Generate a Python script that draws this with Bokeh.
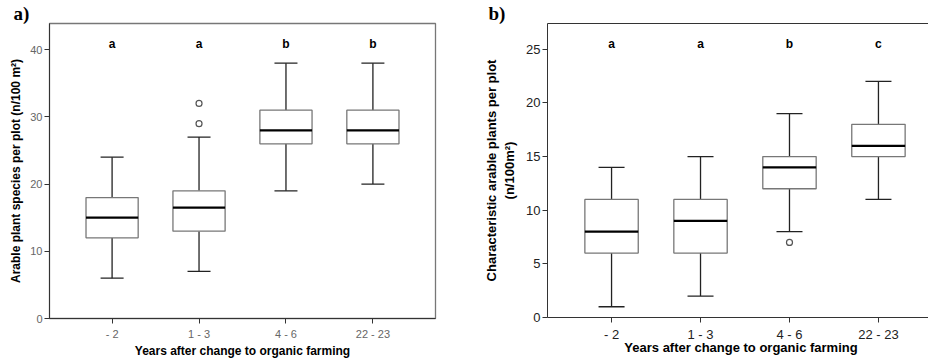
from bokeh.plotting import figure
from bokeh.models import (ColumnDataSource, LinearAxis, Title, FixedTicker, Range1d,
                          Whisker, TeeHead)
from bokeh.layouts import row
from bokeh.core.properties import value
from bokeh.embed import file_html
from bokeh.resources import INLINE

# ---------------- data ----------------
categories = ["- 2", "1 - 3", "4 - 6", "22 - 23"]

a_low = [6, 7, 19, 20]
a_q1 = [12, 13, 26, 26]
a_med = [15, 16.5, 28, 28]
a_q3 = [18, 19, 31, 31]
a_high = [24, 27, 38, 38]
a_out_cat = [1, 1]
a_out_val = [29, 32]
a_letters = ["a", "a", "b", "b"]

b_low = [1, 2, 8, 11]
b_q1 = [6, 6, 12, 15]
b_med = [8, 9, 14, 16]
b_q3 = [11, 11, 15, 18]
b_high = [14, 15, 19, 22]
b_out_cat = [2]
b_out_val = [7]
b_letters = ["a", "a", "b", "c"]

a_ticks = [0, 10, 20, 30, 40]
b_ticks = [0, 5, 10, 15, 20, 25]

FONT = "Liberation Sans"
SERIF = "Liberation Serif"
BOX_W = 0.6


def boxplot(p, low, q1, med, q3, high, out_cat, out_val, letters, letter_y,
            box_color, whisk_color, cap, letter_size):
    xs = [i + 1 for i in range(len(categories))]
    src = ColumnDataSource(dict(x=xs, low=low, q1=q1, med=med, q3=q3, high=high,
                                x0=[x - BOX_W / 2 for x in xs],
                                x1=[x + BOX_W / 2 for x in xs],
                                letters=letters, ly=[letter_y] * len(xs)))
    p.add_layout(Whisker(source=src, base="x", lower="q3", upper="high",
                         line_color=whisk_color, line_width=1.3,
                         lower_head=None,
                         upper_head=TeeHead(size=cap, line_color=whisk_color, line_width=1.3)))
    p.add_layout(Whisker(source=src, base="x", lower="low", upper="q1",
                         line_color=whisk_color, line_width=1.3,
                         upper_head=None,
                         lower_head=TeeHead(size=cap, line_color=whisk_color, line_width=1.3)))
    p.vbar(x="x", width=BOX_W, bottom="q1", top="q3", source=src,
           fill_color="white", line_color=box_color, line_width=1.3)
    p.segment(x0="x0", x1="x1", y0="med", y1="med", source=src,
              line_color="black", line_width=2.2)
    p.scatter([xs[c] for c in out_cat], out_val, marker="circle", size=6,
              fill_color="white", line_color="#555555", line_width=1.2)
    p.text(x="x", y="ly", text="letters", source=src, text_align="center",
           text_baseline="middle", text_font=value(FONT), text_font_style="bold",
           text_font_size=letter_size, text_color="black")


def style_axes(p, label_color, tick_size, title_size):
    for ax in (p.xaxis[0], p.yaxis[0]):
        ax.axis_line_color = "#333333"
        ax.major_tick_line_color = "#333333"
        ax.major_tick_out = 5
        ax.major_tick_in = 0
        ax.minor_tick_line_color = None
        ax.major_label_text_font = FONT
        ax.major_label_text_font_size = tick_size
        ax.major_label_text_color = label_color
        ax.axis_label_text_font = FONT
        ax.axis_label_text_font_style = "bold"
        ax.axis_label_text_font_size = title_size
        ax.axis_label_text_color = "black"
    p.xaxis.ticker = FixedTicker(ticks=[i + 1 for i in range(len(categories))])
    p.xaxis.major_label_overrides = {i + 1: c for i, c in enumerate(categories)}
    p.xgrid.visible = False
    p.ygrid.visible = False


def panel_title(p, text, offset):
    p.add_layout(Title(text=text, text_font=SERIF, text_font_style="bold",
                       text_font_size="19px", text_color="black", align="left",
                       offset=offset, standoff=0, vertical_align="bottom"), "above")


# ---------------- panel a ----------------
pa = figure(frame_width=386, frame_height=295, min_border_left=49, min_border_right=46,
            min_border_top=19, min_border_bottom=45,
            x_range=Range1d(0.28, 4.72), y_range=Range1d(0, 43.9),
            output_backend="svg", toolbar_location=None)
pa.outline_line_color = "#777777"
pa.outline_line_width = 1.3
style_axes(pa, "#666666", "11px", "12px")
pa.yaxis.ticker = FixedTicker(ticks=a_ticks)
pa.yaxis.axis_label = "Arable plant species per plot (n/100 m²)"
pa.xaxis.axis_label = "Years after change to organic farming"
pa.yaxis.axis_label_standoff = 4
pa.xaxis.axis_label_standoff = 1
pa.xaxis.major_label_standoff = 4
pa.yaxis.major_label_standoff = 2
boxplot(pa, a_low, a_q1, a_med, a_q3, a_high, a_out_cat, a_out_val, a_letters, 40.9,
        "#777777", "#222222", 23, "12px")
panel_title(pa, "a)", -36)

# ---------------- panel b ----------------
pb = figure(frame_width=387, frame_height=294, min_border_left=60, min_border_right=0,
            min_border_top=17, min_border_bottom=48,
            x_range=Range1d(0.28, 4.63), y_range=Range1d(0, 27.4),
            output_backend="svg", toolbar_location=None)
pb.outline_line_color = None
style_axes(pb, "#222222", "13px", "13px")
pb.yaxis.ticker = FixedTicker(ticks=b_ticks)
pb.yaxis.axis_label = "Characteristic arable plants per plot\n(n/100m²)"
pb.xaxis.axis_label = "Years after change to organic farming"
pb.yaxis.axis_label_standoff = 6
pb.xaxis.axis_label_standoff = -5
pb.xaxis.major_label_standoff = 4
pb.yaxis.major_label_standoff = 2
top_axis = LinearAxis(ticker=FixedTicker(ticks=[]), major_label_text_font_size="0px",
                      axis_line_color="#333333", major_tick_line_color=None,
                      minor_tick_line_color=None)
pb.add_layout(top_axis, "above")
boxplot(pb, b_low, b_q1, b_med, b_q3, b_high, b_out_cat, b_out_val, b_letters, 25.5,
        "#777777", "#222222", 26, "12px")
panel_title(pb, "b)", -59)

layout = row(pa, pb)
open("out.html", "w").write(file_html(layout, INLINE))
